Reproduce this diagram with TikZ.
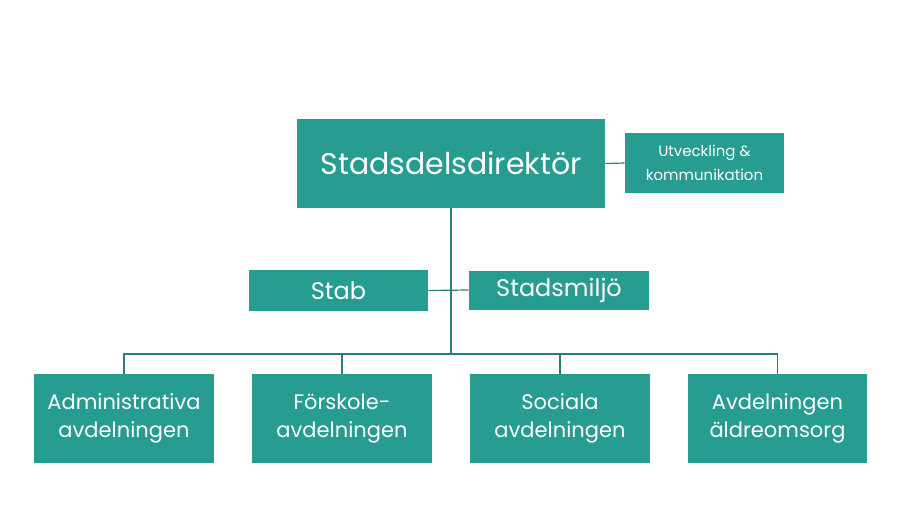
\documentclass[tikz,border=0pt]{standalone}
\usepackage{fontspec}
\setmainfont{Poppins}
\usepackage{tikz}

\definecolor{teal1}{HTML}{279C90}
\definecolor{linec}{HTML}{2B7F7A}

\tikzset{
    orgbox/.style={fill=teal1, text=white, align=center, inner sep=0pt},
    orgline/.style={draw=linec, line width=0.6pt}
}

\begin{document}
\begin{tikzpicture}[x=0.5pt, y=-0.5pt]

    \useasboundingbox (0,0) rectangle (907,521);

    % top level
    \node[orgbox, minimum width=154pt, minimum height=44.5pt, font=\fontsize{15}{18}\selectfont] (dir) at (451,163.5) {Stadsdelsdirektör};
    \node[orgbox, minimum width=79.5pt, minimum height=30pt, font=\fontsize{7.5}{12}\selectfont] (utv) at (704.5,163) {Utveckling \&\\kommunikation};

    % staff level
    \node[orgbox, minimum width=89.5pt, minimum height=20.5pt, font=\fontsize{12}{14}\selectfont] (stab) at (338.5,290.5) {Stab};
    \node[orgbox, minimum width=90pt, minimum height=19.5pt, font=\fontsize{12}{14}\selectfont] (miljo) at (559,290) {Stadsmiljö};

    % departments
    \node[orgbox, minimum width=90pt, minimum height=44.5pt, font=\fontsize{10.5}{14}\selectfont] (adm) at (124,418.5) {Administrativa\\avdelningen};
    \node[orgbox, minimum width=90pt, minimum height=44.5pt, font=\fontsize{10.5}{14}\selectfont] (forsk) at (342,418.5) {Förskole-\\avdelningen};
    \node[orgbox, minimum width=90pt, minimum height=44.5pt, font=\fontsize{10.5}{14}\selectfont] (soc) at (560,418.5) {Sociala\\avdelningen};
    \node[orgbox, minimum width=89.5pt, minimum height=44.5pt, font=\fontsize{10.5}{14}\selectfont] (aldre) at (777.5,418.5) {Avdelningen\\äldreomsorg};

    \coordinate (hub) at (451,354);

    \draw[orgline] (dir.east) -- (utv.west);
    \draw[orgline] (dir.south) -- (hub);
    \draw[orgline] (stab.east) -- (miljo.west);
    \draw[orgline] (adm.north) |- (hub) -| (aldre.north);
    \draw[orgline] (forsk.north) -- (forsk.north |- hub);
    \draw[orgline] (soc.north) -- (soc.north |- hub);

\end{tikzpicture}
\end{document}
